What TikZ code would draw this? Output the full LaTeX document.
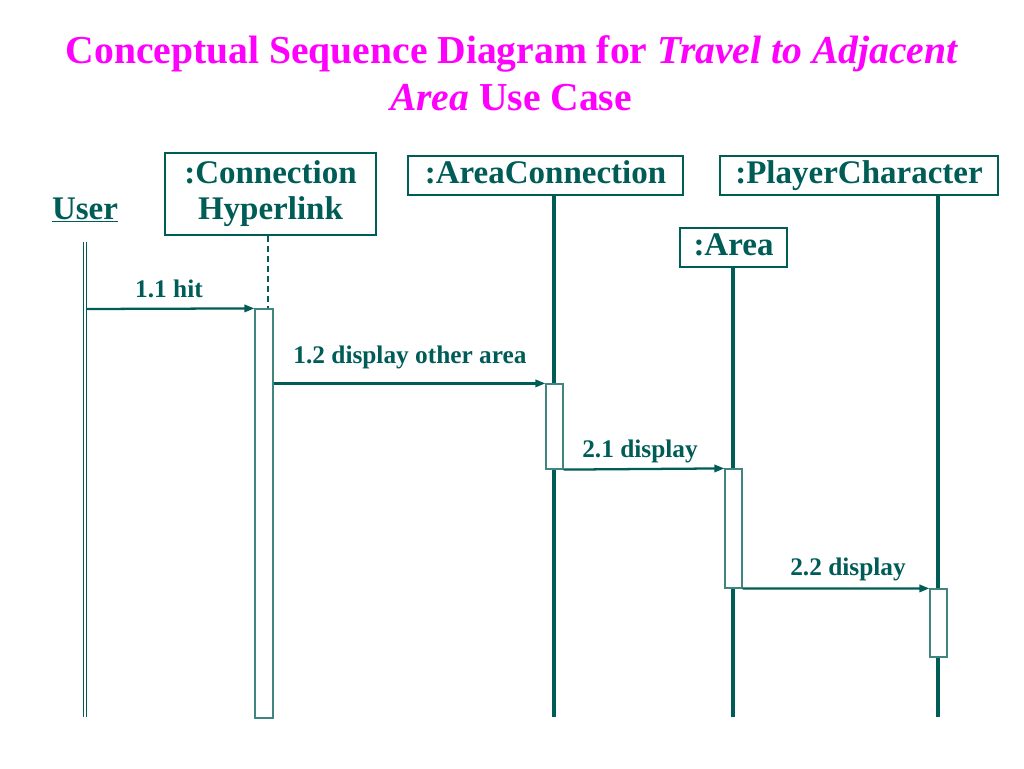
\documentclass[tikz,border=0pt]{standalone}
\usepackage{fontspec}
\setmainfont{Liberation Serif}
\usetikzlibrary{arrows.meta}
\definecolor{teal1}{RGB}{0,92,86}
\definecolor{mag}{RGB}{255,0,255}
\begin{document}
\begin{tikzpicture}[x=0.75pt,y=-0.75pt,
  titletext/.style={anchor=base,text=mag,font=\fontsize{29.7pt}{34pt}\selectfont\bfseries,inner sep=0},
  objbox/.style={draw=teal1,line width=1.7pt,text=teal1,font=\fontsize{24.75pt}{27pt}\selectfont\bfseries,inner sep=0,align=center},
  oneline/.style={text height=17.5pt,text depth=5.5pt},
  lifeline/.style={draw=teal1,line width=3pt},
  actbox/.style={draw=teal1!75,fill=white,line width=0.9pt,inner sep=0},
  msg/.style={draw=teal1,line width=1.7pt,-{Triangle[length=7.5pt,width=5.5pt]}},
  msglabel/.style={anchor=base,text=teal1,font=\fontsize{19pt}{21pt}\selectfont\bfseries,inner sep=0}]
\useasboundingbox (0,0) rectangle (1024,768);
% title
\node[titletext] (title1) at (512,63) {Conceptual Sequence Diagram for \textit{Travel to Adjacent}};
\node[titletext] (title2) at (511,110) {\textit{Area} Use Case};
% objects
\node[anchor=base,text=teal1,font=\fontsize{24.75pt}{28.5pt}\selectfont\bfseries,inner sep=0] (user) at (85,219) {\underline{User}};
\node[objbox,minimum width=158.25pt,minimum height=61.5pt] (conn) at (270.5,194) {:Connection\\Hyperlink};
\node[objbox,oneline,minimum width=206.25pt,minimum height=29.25pt] (aconn) at (545.5,175.5) {:AreaConnection};
\node[objbox,oneline,minimum width=208.5pt,minimum height=29.25pt] (pc) at (859,175.5) {:PlayerCharacter};
\node[objbox,oneline,minimum width=80.25pt,minimum height=29.25pt] (area) at (733.5,247.5) {:Area};
% lifeline ends
\coordinate (uTop) at (85,242);
\coordinate (uEnd) at (85,717);
\coordinate (cDash) at (268,309);
\coordinate (acEnd) at (554,717);
\coordinate (arEnd) at (733,717);
\coordinate (pcEnd) at (938,717);
% lifelines
\draw[teal1,line width=0.7pt,double=white,double distance=1.8pt] (uTop) -- (uEnd);
\draw[teal1,line width=0.8pt,dash pattern=on 4.5pt off 3pt] (cDash |- conn.south) -- (cDash);
\draw[lifeline] (acEnd |- aconn.south) -- (acEnd);
\draw[lifeline] (arEnd |- area.south) -- (arEnd);
\draw[lifeline] (pcEnd |- pc.south) -- (pcEnd);
% activations
\node[actbox,minimum width=13.5pt,minimum height=306.75pt] (act1) at (264,513.5) {};
\node[actbox,minimum width=12.75pt,minimum height=63.75pt] (act2) at (554.5,426.5) {};
\node[actbox,minimum width=12.75pt,minimum height=89.25pt] (act3) at (733.5,528.5) {};
\node[actbox,minimum width=12.75pt,minimum height=51pt] (act4) at (938.5,623) {};
% messages
\coordinate (uMsg) at (86,309);
\draw[msg] (uMsg) -- (act1.north west);
\draw[msg] (act1.east |- act2.north) -- (act2.north west);
\draw[msg] (act2.south east) -- (act3.north west);
\draw[msg] (act3.south east) -- (act4.north west);
\node[msglabel] (l11) at (169,297) {1.1 hit};
\node[msglabel] (l12) at (410,363) {1.2 display other area};
\node[msglabel] (l21) at (640,457) {2.1 display};
\node[msglabel] (l22) at (848,575) {2.2 display};
\end{tikzpicture}
\end{document}
